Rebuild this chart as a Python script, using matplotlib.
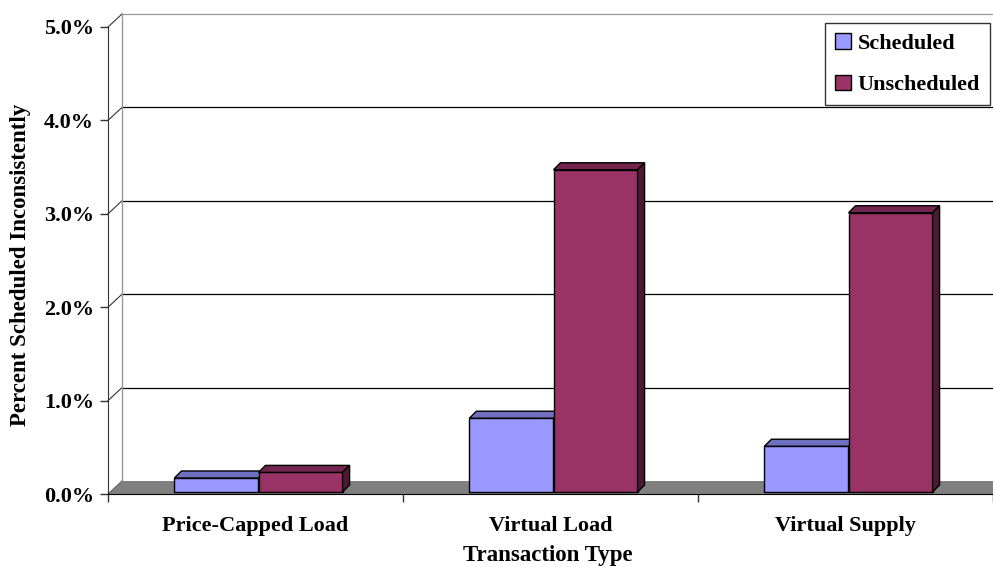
import matplotlib.pyplot as plt
from matplotlib.patches import Polygon, Patch

plt.rcParams['font.family'] = 'Liberation Serif'
plt.rcParams['font.weight'] = 'bold'

categories = ['Price-Capped Load', 'Virtual Load', 'Virtual Supply']
scheduled = [0.15, 0.79, 0.49]
unscheduled = [0.21, 3.45, 2.99]
y_ticks = [0, 1, 2, 3, 4, 5]

sched_front, sched_top = '#9999FF', '#7070C0'
unsch_front, unsch_top, unsch_side = '#993366', '#73264D', '#4D1A33'

W, H = 993, 567
fig = plt.figure(figsize=(W / 100, H / 100), dpi=100)
ax = fig.add_axes([108 / W, 73 / H, 885 / W, 467 / H])
ax.set_xlim(0, 3)
ax.set_ylim(0, 5)

# pixel -> data helpers
px = 3 / 885
py = 5 / 467
wdx, wdy = 14 * px, 13 * py      # back wall offset
bdx, bdy = 7 * px, 7 * py        # bar depth
ox, oy = 3 * px, 2 * py          # bar front position inside the depth

# floor
ax.add_patch(Polygon([(0, 0), (3, 0), (3 + wdx, wdy), (wdx, wdy)],
                     closed=True, facecolor='#808080', edgecolor='none',
                     clip_on=False, zorder=1))

# back wall gridlines and connectors
for v in y_ticks[1:]:
    col = '#999999' if v == 5 else 'black'
    ax.plot([wdx, 3 + wdx], [v + wdy, v + wdy], color=col, lw=0.9,
            clip_on=False, zorder=1)
    ax.plot([0, wdx], [v, v + wdy], color='#333333', lw=0.8,
            clip_on=False, zorder=1)
ax.plot([wdx, wdx], [wdy, 5 + wdy], color='#999999', lw=1,
        clip_on=False, zorder=1)
ax.plot([0, wdx], [0, wdy], color='#666666', lw=0.8, clip_on=False, zorder=1)

# bars
w = 0.285
for i in range(len(categories)):
    c = i + 0.5 + ox
    for j, (vals, fc, tc, sc) in enumerate([
            (scheduled, sched_front, sched_top, sched_top),
            (unscheduled, unsch_front, unsch_top, unsch_side)]):
        x0 = c - w + j * w
        x1 = x0 + w
        b = oy
        t = oy + vals[i]
        ax.bar(x0, vals[i], width=w, bottom=b, align='edge', color=fc,
               edgecolor='black', linewidth=1, zorder=3 + 2 * j)
        ax.add_patch(Polygon([(x0, t), (x1, t), (x1 + bdx, t + bdy), (x0 + bdx, t + bdy)],
                             closed=True, facecolor=tc, edgecolor='black',
                             linewidth=1, zorder=3 + 2 * j))
        ax.add_patch(Polygon([(x1, b), (x1, t), (x1 + bdx, t + bdy), (x1 + bdx, b + bdy)],
                             closed=True, facecolor=sc, edgecolor='black',
                             linewidth=1, zorder=3 + 2 * j))

# axes styling
for s in ['top', 'right']:
    ax.spines[s].set_visible(False)
ax.spines['left'].set_color('#333333')
ax.spines['bottom'].set_color('black')
ax.spines['left'].set_zorder(2)
ax.spines['bottom'].set_zorder(2)

ax.set_yticks(y_ticks)
ax.set_yticklabels([f'{v:.1f}%' for v in y_ticks], fontsize=16)
ax.tick_params(axis='y', length=6, width=1, pad=4, color='#333333')
ax.set_xticks([0, 1, 2, 3])
ax.set_xticklabels([])
ax.set_xticks([0.5, 1.5, 2.5], minor=True)
ax.set_xticklabels(categories, minor=True, fontsize=16)
ax.tick_params(axis='x', which='major', length=6, width=1, color='#333333')
ax.tick_params(axis='x', which='minor', length=0, pad=16)

fig.text(548 / W, 1 - 556 / H, 'Transaction Type', ha='center', va='center',
         fontsize=16.5)
fig.text(21 / W, 1 - 265 / H, 'Percent Scheduled Inconsistently', ha='center',
         va='center', rotation=90, fontsize=16.5)

handles = [Patch(facecolor=sched_front, edgecolor='black', label='Scheduled'),
           Patch(facecolor=unsch_front, edgecolor='black', label='Unscheduled')]
leg = fig.legend(handles=handles, loc='upper right',
                 bbox_to_anchor=(990 / W, 1 - 23 / H), fontsize=16,
                 frameon=True, fancybox=False, edgecolor='black',
                 handlelength=0.7, handleheight=0.7, handletextpad=0.3,
                 labelspacing=0.95, borderpad=0.45, borderaxespad=0)
leg.get_frame().set_linewidth(1)

fig.savefig('out.png', dpi=100)
